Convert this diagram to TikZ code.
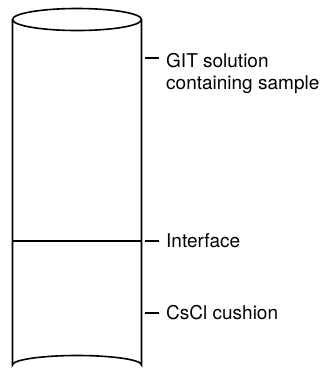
\documentclass[tikz,border=0pt]{standalone}
\usepackage{fontspec}
\setmainfont{TeX Gyre Heros}
\begin{document}
\begin{tikzpicture}[x=1pt,y=-1pt,
  outline/.style={line width=1.6pt,black},
  tick/.style={line width=1.5pt,black},
  lab/.style={inner sep=0pt,font=\fontsize{19}{22}\selectfont,align=left}]
\useasboundingbox (0,0) rectangle (322,376);
% cylinder
\coordinate (tl) at (12.5,19.5);
\coordinate (tr) at (141.5,19.5);
\coordinate (bl) at (12.5,365);
\coordinate (br) at (141.5,365);
\draw[outline] (77,19.5) ellipse [x radius=64.5, y radius=11];
\draw[outline] (tl) -- (bl) arc[start angle=180,end angle=360,x radius=64.5,y radius=9.5] -- (tr);
% interface
\coordinate (il) at (12.5,241);
\coordinate (ir) at (141.5,241);
\draw[outline] (il) -- (ir);
% ticks
\coordinate (t1a) at (145,58); \coordinate (t1b) at (159,58);
\coordinate (t2a) at (145,241); \coordinate (t2b) at (159,241);
\coordinate (t3a) at (145,313); \coordinate (t3b) at (159,313);
\draw[tick] (t1a) -- (t1b);
\draw[tick] (t2a) -- (t2b);
\draw[tick] (t3a) -- (t3b);
% labels
\node[lab,anchor=north west] (git) at (166,53.5) {GIT solution\\containing sample};
\node[lab,anchor=west] (int) at (166,241) {Interface};
\node[lab,anchor=west] (csc) at (166,313) {CsCl cushion};
\end{tikzpicture}
\end{document}
